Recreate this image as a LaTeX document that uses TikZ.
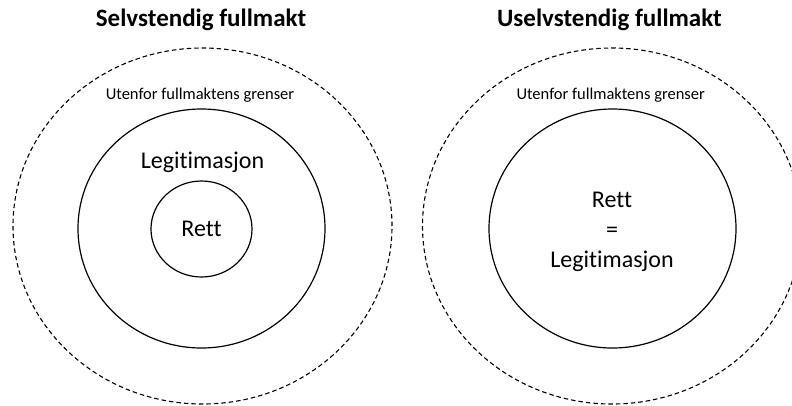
\documentclass[tikz,border=0pt]{standalone}
\usepackage{fontspec}
\setmainfont{Carlito}[Ligatures=CommonOff]
\usetikzlibrary{shapes.geometric}
\begin{document}
\begin{tikzpicture}[x=1pt,y=-1pt,
  outerring/.style={draw, ellipse, dash pattern=on 4.5pt off 3pt, line width=1.1pt,
    minimum width=379pt, minimum height=356pt, inner sep=0pt, outer sep=0pt},
  midring/.style={draw, ellipse, line width=1.2pt,
    minimum width=247pt, minimum height=239pt, inner sep=0pt, outer sep=0pt},
  innerring/.style={draw, ellipse, line width=1.2pt,
    minimum width=101pt, minimum height=96pt, inner sep=0pt, outer sep=0pt},
  titletext/.style={anchor=base, inner sep=0pt, font=\fontsize{25}{30}\selectfont\bfseries},
  smalltext/.style={anchor=base, inner sep=0pt, font=\fontsize{16.5}{20}\selectfont},
  bigtext/.style={anchor=base, inner sep=0pt, font=\fontsize{24}{30}\selectfont, align=center}]
\useasboundingbox (0,0) rectangle (792,405);
\clip (0,0) rectangle (792,405);
% left
\node[titletext] (t1) at (201,26) {Selvstendig fullmakt};
\node[outerring] (o1) at (202.5,226) {};
\node[smalltext] (u1) at (200,99.3) {Utenfor fullmaktens grenser};
\node[midring] (m1) at (201.5,228.5) {};
\node[bigtext] (l1) at (202.5,168.3) {Legitimasjon};
\node[innerring] (i1) at (201.5,229) {};
\node[bigtext] (r1) at (201.5,236.7) {Rett};
% right
\node[titletext] (t2) at (609.5,26) {Uselvstendig fullmakt};
\node[outerring] (o2) at (612,226) {};
\node[smalltext] (u2) at (610.7,99.3) {Utenfor fullmaktens grenser};
\node[midring] (m2) at (612.5,228.5) {};
\node[bigtext] (r2) at (612,267) {Rett\\=\\Legitimasjon};
\end{tikzpicture}
\end{document}
